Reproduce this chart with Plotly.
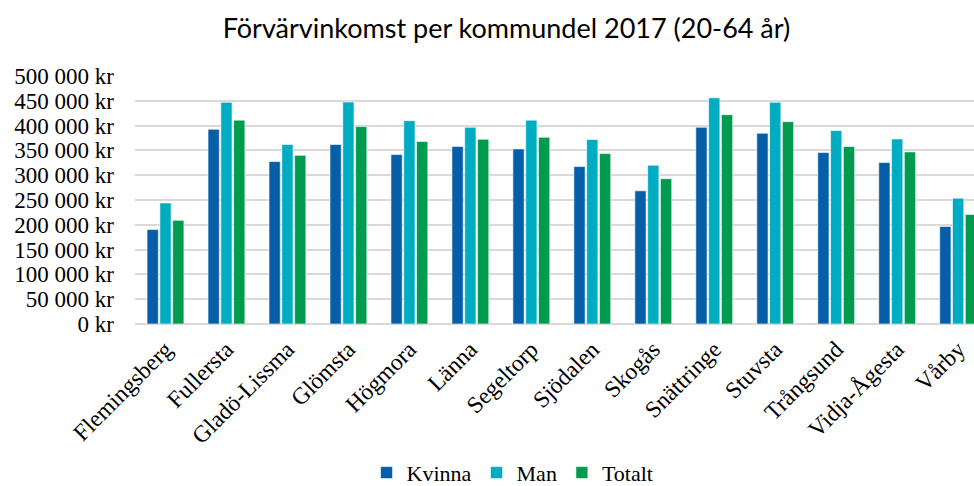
import plotly.graph_objects as go

categories = ["Flemingsberg", "Fullersta", "Gladö-Lissma", "Glömsta", "Högmora", "Länna",
              "Segeltorp", "Sjödalen", "Skogås", "Snättringe", "Stuvsta", "Trångsund",
              "Vidja-Ågesta", "Vårby"]
kvinna = [190600, 392600, 327500, 362000, 341600, 358000, 353000, 317400, 268500, 396600, 384600, 345600, 325500, 196600]
man = [244000, 447000, 362000, 447600, 410000, 396600, 411000, 372000, 320000, 456000, 447000, 390000, 373000, 253700]
totalt = [209000, 411000, 340000, 398000, 368000, 372500, 376500, 343600, 293000, 422000, 408000, 357700, 347000, 220800]
series_names = ["Kvinna", "Man", "Totalt"]
colors = ["#065EA8", "#00ACC1", "#009B4F"]
tick_vals = [0, 50000, 100000, 150000, 200000, 250000, 300000, 350000, 400000, 450000, 500000]
tick_text = ["0 kr", "50 000 kr", "100 000 kr", "150 000 kr", "200 000 kr", "250 000 kr",
             "300 000 kr", "350 000 kr", "400 000 kr", "450 000 kr", "500 000 kr"]

serif = "Liberation Serif, Times New Roman, serif"
fig = go.Figure()
for name, vals, col in zip(series_names, [kvinna, man, totalt], colors):
    fig.add_trace(go.Bar(x=list(range(len(categories))), y=vals, name=name,
                         marker=dict(color=col, line=dict(color="rgba(255,255,255,0.6)", width=1))))

fig.update_layout(
    width=974, height=486,
    margin=dict(l=135, r=0, t=76, b=162, autoexpand=False),
    paper_bgcolor="white", plot_bgcolor="white",
    barmode="group", bargap=0.37, bargroupgap=0.12,
    title=dict(text="Förvärvinkomst per kommundel 2017 (20-64 år)", x=0.52, xanchor="center",
               xref="container", y=0.942, yref="container", yanchor="middle",
               font=dict(family="Lato, Open Sans, sans-serif", size=27, color="#000")),
    xaxis=dict(tickmode="array", tickvals=list(range(len(categories))), ticktext=categories,
               range=[-0.5, 13.26], tickangle=-45, showgrid=False, showline=False, ticks="",
               automargin=False, ticklabelstandoff=6,
               tickfont=dict(family=serif, size=23.5, color="#000")),
    yaxis=dict(range=[0, 500000], tickmode="array", tickvals=tick_vals, ticktext=tick_text,
               showgrid=True, gridcolor="#D9D9D9", gridwidth=1.5, zeroline=True,
               zerolinecolor="#D9D9D9", zerolinewidth=1.5, ticks="", ticklen=0,
               automargin=False, ticklabelstandoff=20,
               tickfont=dict(family=serif, size=23, color="#000")),
    legend=dict(orientation="h", x=0.45, xanchor="center", y=-0.60, yanchor="middle",
                font=dict(family=serif, size=22, color="#000"), itemwidth=30,
                traceorder="normal", tracegroupgap=0),
    showlegend=True,
)
fig.write_html("out.html", config={"displayModeBar": False},
               post_script="document.body.style.margin='0';")
